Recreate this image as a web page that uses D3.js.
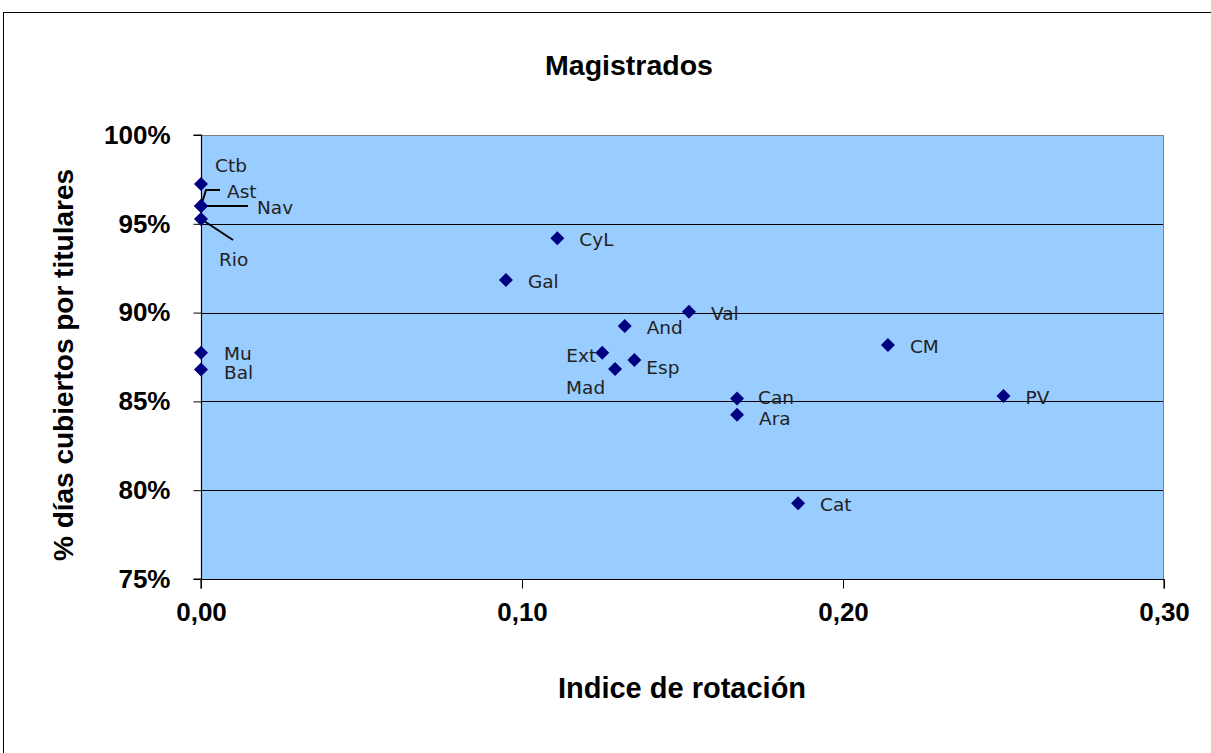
<!DOCTYPE html>
<html>
<head>
<meta charset="utf-8">
<script src="https://cdn.jsdelivr.net/npm/d3@7"></script>
<style>
  html, body { margin: 0; padding: 0; background: #fff; }
  svg { display: block; }
</style>
</head>
<body>
<svg id="chart" width="1211" height="753"></svg>
<script>
// ---------- DATA ----------
const regions = ["Ctb","Ast","Nav","Rio","Mu","Bal","CyL","Gal","Val","And","Ext","Esp","Mad","CM","Can","Ara","PV","Cat"];
const rotationIndex = [0, 0, 0, 0, 0, 0, 0.111, 0.095, 0.152, 0.132, 0.125, 0.135, 0.129, 0.214, 0.167, 0.167, 0.250, 0.186];
const coveredPct = [97.24, 96.0, 96.0, 95.27, 87.74, 86.8, 94.18, 91.84, 90.05, 89.25, 87.74, 87.33, 86.82, 88.18, 85.17, 84.25, 85.30, 79.26];
const xTicks = [0, 0.1, 0.2, 0.3];
const xTickLabels = ["0,00", "0,10", "0,20", "0,30"];
const yTicks = [75, 80, 85, 90, 95, 100];
const yTickLabels = ["75%", "80%", "85%", "90%", "95%", "100%"];
const chartTitle = "Magistrados";
const xTitle = "Indice de rotación";
const yTitle = "% días cubiertos por titulares";

// ---------- LABEL LAYOUT (offsets from the marker, px) ----------
const labelLayout = {
  Ctb: { dx: 14, dy: -12 },
  Ast: { dx: 26, dy: -8, leader: [[0, 0], [5, -16], [19, -16]] },
  Nav: { dx: 56, dy: 8, leader: [[0, 0], [47, 0]] },
  Rio: { dx: 18, dy: 47, leader: [[0, 0], [32, 21]] },
  Mu:  { dx: 23, dy: 7 },
  Bal: { dx: 23, dy: 10 },
  Ext: { dx: -36, dy: 9 },
  Esp: { dx: 12, dy: 14 },
  Mad: { dx: -49, dy: 25 },
  Can: { dx: 21, dy: 6 },
  Ara: { dx: 22, dy: 10 }
};
const defaultLabel = { dx: 22, dy: 8 };

// ---------- CHART ----------
const svg = d3.select("#chart");
const plot = { left: 201, right: 1164, top: 135, bottom: 579 };

const x = d3.scaleLinear().domain([0, 0.3]).range([plot.left, plot.right]);
const y = d3.scaleLinear().domain([75, 100]).range([plot.bottom, plot.top]);

// outer frame
svg.append("rect")
  .attr("x", 3.5).attr("y", 12.5)
  .attr("width", 1220).attr("height", 780)
  .attr("fill", "none").attr("stroke", "#000").attr("stroke-width", 1);

// plot background
svg.append("rect")
  .attr("x", plot.left).attr("y", plot.top)
  .attr("width", plot.right - plot.left).attr("height", plot.bottom - plot.top)
  .attr("fill", "#99CCFF");

// gridlines
svg.append("g").selectAll("line")
  .data(yTicks.filter(v => v > 75 && v < 100))
  .join("line")
  .attr("x1", plot.left).attr("x2", plot.right)
  .attr("y1", d => Math.round(y(d)) + 0.5).attr("y2", d => Math.round(y(d)) + 0.5)
  .attr("stroke", "#000").attr("stroke-width", 1);

// top & right border of plot
svg.append("path")
  .attr("d", `M${plot.left},${plot.top + 0.5}H${plot.right - 0.5}V${plot.bottom}`)
  .attr("fill", "none").attr("stroke", "#808080").attr("stroke-width", 1);

// axes
const yAxis = d3.axisLeft(y)
  .tickValues(yTicks)
  .tickFormat((d, i) => yTickLabels[i])
  .tickSize(8).tickPadding(23);
const gy = svg.append("g")
  .attr("transform", `translate(${plot.left + 0.5},0)`)
  .call(yAxis);

const xAxis = d3.axisBottom(x)
  .tickValues(xTicks)
  .tickFormat((d, i) => xTickLabels[i])
  .tickSize(9).tickPadding(14);
const gx = svg.append("g")
  .attr("transform", `translate(0,${plot.bottom + 0.5})`)
  .call(xAxis);

[gx, gy].forEach(g => {
  g.select(".domain").attr("stroke", "#000").attr("stroke-width", 1.2);
  g.selectAll(".tick line").attr("stroke", "#000");
  g.selectAll(".tick text")
    .attr("fill", "#000")
    .style("font-family", "'Liberation Sans', Arial, sans-serif")
    .style("font-weight", "bold")
    .style("font-size", "26px");
});
gy.select(".domain").attr("d", `M-8,${plot.bottom}H0V${plot.top}H-8`);
gx.select(".domain").attr("d", `M${plot.left},9V0H${plot.right}V9`);

// leader lines
const pts = regions.map((r, i) => ({ name: r, px: x(rotationIndex[i]), py: y(coveredPct[i]) }));
const line = d3.line();
svg.append("g").selectAll("path")
  .data(pts.filter(p => labelLayout[p.name] && labelLayout[p.name].leader))
  .join("path")
  .attr("d", p => line(labelLayout[p.name].leader.map(([a, b]) => [p.px + a, p.py + b])))
  .attr("fill", "none").attr("stroke", "#000").attr("stroke-width", 2);

// diamond markers
const diamond = {
  draw(ctx, size) {
    const r = Math.sqrt(size / 2);
    ctx.moveTo(0, -r); ctx.lineTo(r, 0); ctx.lineTo(0, r); ctx.lineTo(-r, 0); ctx.closePath();
  }
};
svg.append("g").selectAll("path")
  .data(pts)
  .join("path")
  .attr("transform", p => `translate(${p.px},${p.py})`)
  .attr("d", d3.symbol(diamond, 98))
  .attr("fill", "#000080");

// data labels
svg.append("g").selectAll("text")
  .data(pts)
  .join("text")
  .attr("x", p => p.px + (labelLayout[p.name] || defaultLabel).dx)
  .attr("y", p => p.py + (labelLayout[p.name] || defaultLabel).dy)
  .text(p => p.name)
  .attr("fill", "#222")
  .style("font-family", "'DejaVu Sans', Verdana, sans-serif")
  .style("font-size", "18.5px");

// titles
svg.append("text")
  .attr("x", 629).attr("y", 75)
  .attr("text-anchor", "middle")
  .style("font-family", "'Liberation Sans', Arial, sans-serif")
  .style("font-weight", "bold").style("font-size", "28.5px")
  .text(chartTitle);

svg.append("text")
  .attr("x", 682).attr("y", 698)
  .attr("text-anchor", "middle")
  .style("font-family", "'Liberation Sans', Arial, sans-serif")
  .style("font-weight", "bold").style("font-size", "29px")
  .text(xTitle);

svg.append("text")
  .attr("transform", "translate(73,365) rotate(-90)")
  .attr("text-anchor", "middle")
  .style("font-family", "'Liberation Sans', Arial, sans-serif")
  .style("font-weight", "bold").style("font-size", "28px")
  .text(yTitle);
</script>
</body>
</html>
